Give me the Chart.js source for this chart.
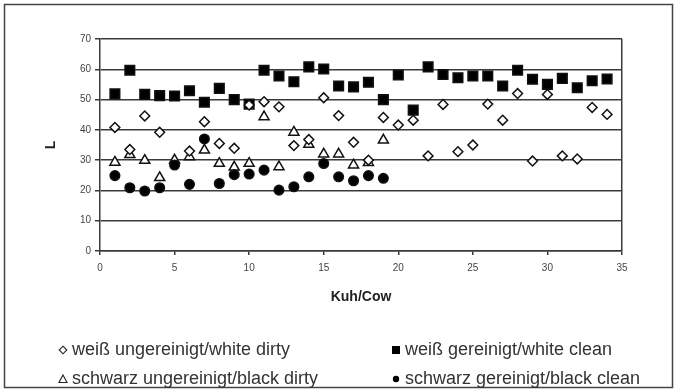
<!DOCTYPE html>
<html>
<head>
<meta charset="utf-8">
<script src="https://cdn.jsdelivr.net/npm/chart.js@4/dist/chart.umd.min.js"></script>
<style>
  html, body { margin: 0; padding: 0; background: #fff; }
  #wrap { position: relative; width: 677px; height: 392px; }
</style>
</head>
<body>
<div id="wrap"><canvas id="chart" width="677" height="392"></canvas></div>
<script>
// cow numbers on the x axis
const cows = [1, 2, 3, 4, 5, 6, 7, 8, 9, 10, 11, 12, 13, 14, 15, 16, 17,
  18, 19, 20, 21, 22, 23, 24, 25, 26, 27, 28, 29, 30, 31, 32, 33, 34];

// L values, one per cow (null = no measurement)
const whiteDirty = [40.8, 33.5, 44.6, 39.2, null, 33.0, 42.7, 35.5, 33.9, 48.2,
  49.3, 47.6, 34.8, 36.8, 50.6, 44.7, 35.9, 30.0, 44.1, 41.6, 43.2, 31.4, 48.4,
  32.8, 35.0, 48.5, 43.2, 52.0, 29.7, 51.7, 31.4, 30.4, 47.4, 45.1];
const whiteClean = [51.9, 59.7, 51.7, 51.3, 51.2, 52.9, 49.1, 53.7, 50.0, 48.5,
  59.7, 57.8, 55.9, 60.8, 60.1, 54.5, 54.2, 55.7, 50.0, 58.1, 46.5, 60.8, 58.3,
  57.2, 57.8, 57.8, 54.5, 59.7, 56.7, 55.0, 57.0, 53.9, 56.2, 56.8];
const blackDirty = [29.3, 31.8, 29.9, 24.2, 30.0, 31.1, 33.3, 28.9, 27.7, 28.9,
  44.3, 27.8, 39.2, 35.2, 32.0, 32.0, 28.4, 29.2, 36.6];
const blackClean = [24.9, 20.9, 19.8, 20.9, 28.4, 22.0, 37.0, 22.3, 25.2, 25.4,
  26.7, 20.1, 21.2, 24.5, 28.9, 24.5, 23.2, 24.9, 24.0];

const xTicks = [0, 5, 10, 15, 20, 25, 30, 35];
const yTicks = [0, 10, 20, 30, 40, 50, 60, 70];

const labelWhiteDirty = 'weiß ungereinigt/white dirty';
const labelWhiteClean = 'weiß gereinigt/white clean';
const labelBlackDirty = 'schwarz ungereinigt/black dirty';
const labelBlackClean = 'schwarz gereinigt/black clean';
const xTitle = 'Kuh/Cow';
const yTitle = 'L';

const FONT = '"Liberation Sans", Arial, sans-serif';
const INK = '#222';
const GRID = '#3a3a3a';

function toPoints(values) {
  const pts = [];
  values.forEach((v, i) => { if (v !== null) pts.push({ x: cows[i], y: v }); });
  return pts;
}

// frame around the figure and the two-column legend underneath
const framePlugin = {
  id: 'frame',
  beforeDraw(chart) {
    const ctx = chart.ctx;
    ctx.save();
    ctx.fillStyle = '#fff';
    ctx.fillRect(0, 0, chart.width, chart.height);
    ctx.strokeStyle = '#444';
    ctx.lineWidth = 1.5;
    ctx.strokeRect(4.5, 4.5, 668, 383);
    ctx.restore();
  },
  afterDraw(chart) {
    const ctx = chart.ctx;
    const items = [
      { text: labelWhiteDirty, shape: 'diamond', x: 63, y: 350 },
      { text: labelWhiteClean, shape: 'square', x: 396, y: 350 },
      { text: labelBlackDirty, shape: 'triangle', x: 63, y: 379 },
      { text: labelBlackClean, shape: 'circle', x: 396, y: 379 },
    ];
    ctx.save();
    ctx.font = '18px ' + FONT;
    ctx.textBaseline = 'middle';
    ctx.lineWidth = 1.1;
    items.forEach(it => {
      ctx.beginPath();
      ctx.strokeStyle = INK;
      ctx.fillStyle = '#fff';
      if (it.shape === 'diamond') {
        ctx.moveTo(it.x, it.y - 3.8); ctx.lineTo(it.x + 3.8, it.y);
        ctx.lineTo(it.x, it.y + 3.8); ctx.lineTo(it.x - 3.8, it.y); ctx.closePath();
        ctx.fill(); ctx.stroke();
      } else if (it.shape === 'triangle') {
        ctx.moveTo(it.x, it.y - 4); ctx.lineTo(it.x + 4, it.y + 3.5);
        ctx.lineTo(it.x - 4, it.y + 3.5); ctx.closePath();
        ctx.fill(); ctx.stroke();
      } else if (it.shape === 'square') {
        ctx.fillStyle = '#000';
        ctx.rect(it.x - 4, it.y - 4, 8, 8); ctx.fill();
      } else {
        ctx.fillStyle = '#000';
        ctx.arc(it.x, it.y, 3.2, 0, Math.PI * 2); ctx.fill();
      }
      ctx.fillStyle = '#333';
      ctx.fillText(it.text, it.x + 9, it.y);
    });
    ctx.restore();
  },
};

const markerBase = { borderColor: '#111', borderWidth: 1.5, showLine: false };

new Chart(document.getElementById('chart'), {
  type: 'scatter',
  data: {
    datasets: [
      { ...markerBase, label: labelBlackClean, data: toPoints(blackClean),
        pointStyle: 'circle', pointRadius: 4.8, backgroundColor: '#000' },
      { ...markerBase, label: labelWhiteDirty, data: toPoints(whiteDirty),
        pointStyle: 'rectRot', pointRadius: 4.9, backgroundColor: '#fff' },
      { ...markerBase, label: labelWhiteClean, data: toPoints(whiteClean),
        pointStyle: 'rect', pointRadius: 6.8, backgroundColor: '#000' },
      { ...markerBase, label: labelBlackDirty, data: toPoints(blackDirty),
        pointStyle: 'triangle', pointRadius: 5.8, backgroundColor: '#fff' },
    ],
  },
  options: {
    responsive: false,
    animation: false,
    events: [],
    layout: { padding: { left: 40, right: 55, top: 39, bottom: 81 } },
    plugins: { legend: { display: false }, tooltip: { enabled: false } },
    scales: {
      x: {
        type: 'linear', min: 0, max: 35,
        afterFit: s => { s.height = 60; },
        afterBuildTicks: s => { s.ticks = xTicks.map(v => ({ value: v })); },
        ticks: { color: '#444', padding: 7, maxRotation: 0, font: { family: FONT, size: 10 } },
        grid: {
          color: c => (c.tick && c.tick.value === 35 ? GRID : 'rgba(0,0,0,0)'),
          lineWidth: 1.5, tickColor: GRID, tickLength: 4, drawTicks: true,
        },
        border: { color: GRID, width: 1.5 },
        title: { display: true, text: xTitle, color: INK, padding: { top: 0, bottom: 5 },
          font: { family: FONT, size: 14, weight: 'bold' } },
      },
      y: {
        type: 'linear', min: 0, max: 70,
        afterFit: s => { s.width = 60; },
        afterBuildTicks: s => { s.ticks = yTicks.map(v => ({ value: v })); },
        ticks: { color: '#444', padding: 4, font: { family: FONT, size: 10 } },
        grid: { color: GRID, lineWidth: 1.5, tickColor: GRID, tickLength: 5 },
        border: { color: GRID, width: 1.5 },
        title: { display: true, text: yTitle, color: INK, padding: { top: 3, bottom: 0 },
          font: { family: FONT, size: 14, weight: 'bold' } },
      },
    },
  },
  plugins: [framePlugin],
});
</script>
</body>
</html>
